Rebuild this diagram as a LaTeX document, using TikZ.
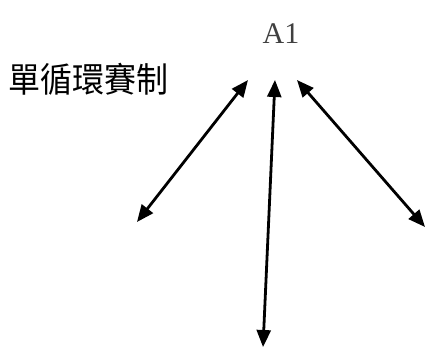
\documentclass[tikz,border=0pt]{standalone}
\usepackage{fontspec}
\setmainfont{Liberation Serif}
\newfontfamily\cjk{Noto Sans CJK TC}
\newfontfamily\teamfont{Liberation Serif}
\usetikzlibrary{arrows.meta,positioning}

\begin{document}
\begin{tikzpicture}[x=1pt,y=-1pt,
  title/.style={inner sep=0pt,anchor=west,yscale=1.08,font=\cjk\fontsize{32pt}{32pt}\selectfont},
  team/.style={inner sep=0pt,text=black!75,font=\teamfont\fontsize{30pt}{30pt}\selectfont},
  to/.style={{Triangle[length=17pt,width=14pt]}-{Triangle[length=17pt,width=14pt]},line width=2.8pt}]

    \useasboundingbox (0,0) rectangle (430,348);

    \node[title](name) at (8,79){單循環賽制};
    \node[team](a1) at (281,34){A1};

    \coordinate (lt) at (248,80);
    \coordinate (lb) at (137,222);
    \coordinate (mt) at (275,80);
    \coordinate (mb) at (263,347);
    \coordinate (rt) at (297,80);
    \coordinate (rb) at (425,227);

    \draw[to](lt) -- (lb);
    \draw[to](mt) -- (mb);
    \draw[to](rt) -- (rb);
\end{tikzpicture}
\end{document}
